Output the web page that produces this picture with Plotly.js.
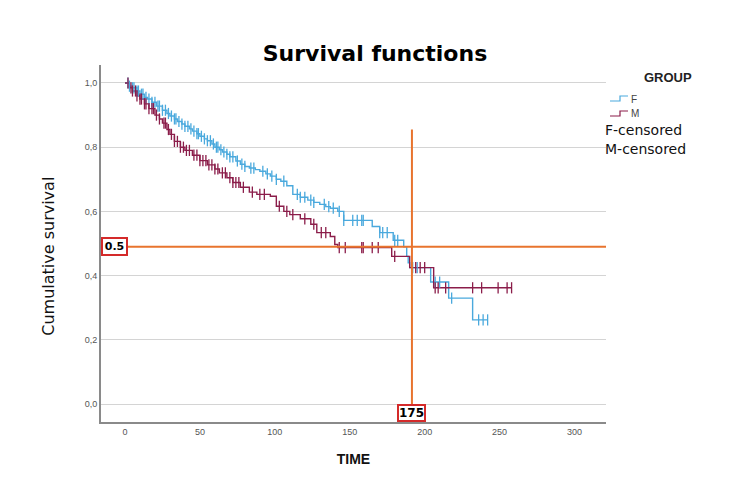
<!DOCTYPE html>
<html>
<head>
<meta charset="utf-8">
<script src="https://cdn.plot.ly/plotly-3.0.1.min.js"></script>
<style>html,body{margin:0;padding:0;background:#fff;}#chart{width:750px;height:493px;}</style>
</head>
<body>
<div id="chart"></div>
<script>
// ---- Data ----
const fTime = [0, 3, 5, 8, 10, 13, 15, 18, 21, 25, 28, 30, 33, 35, 38, 40, 43, 45, 48, 50, 53, 55, 58, 60, 63, 65, 68, 70, 74, 77, 80, 83, 87, 90, 94, 97, 101, 104, 108, 112, 117, 122, 126, 130, 134, 137, 142, 146, 165, 170, 179, 186, 188, 189, 190, 204, 216, 232, 242];
const fSurv = [1.0, 0.99, 0.985, 0.975, 0.965, 0.955, 0.95, 0.94, 0.928, 0.915, 0.905, 0.897, 0.888, 0.88, 0.872, 0.865, 0.857, 0.85, 0.842, 0.834, 0.826, 0.82, 0.81, 0.80, 0.792, 0.785, 0.778, 0.77, 0.757, 0.747, 0.74, 0.735, 0.73, 0.725, 0.717, 0.71, 0.70, 0.694, 0.68, 0.653, 0.644, 0.635, 0.628, 0.622, 0.615, 0.61, 0.60, 0.572, 0.553, 0.534, 0.51, 0.49, 0.46, 0.44, 0.425, 0.38, 0.33, 0.262, 0.262];
const fCensored = [2, 3, 5, 6, 8, 9, 11, 12, 14, 16, 18, 20, 22, 23, 25, 27, 29, 31, 33, 34, 36, 38, 40, 42, 44, 46, 48, 49, 51, 53, 55, 57, 59, 61, 62, 64, 66, 68, 70, 72, 75, 78, 80, 84, 86, 92, 95, 98, 101, 106, 115, 117, 120, 124, 126, 133, 136, 139, 143, 146, 152, 155, 158, 159, 170, 172, 175, 180, 182, 192, 195, 207, 210, 218, 236, 239, 242];

const mTime = [0, 3, 5, 8, 10, 13, 16, 20, 23, 25, 28, 30, 33, 37, 40, 45, 50, 55, 60, 63, 68, 72, 77, 83, 88, 97, 101, 106, 110, 117, 124, 128, 137, 140, 142, 178, 190, 206, 258];
const mSurv = [1.0, 0.985, 0.975, 0.96, 0.95, 0.935, 0.92, 0.90, 0.888, 0.875, 0.855, 0.84, 0.818, 0.80, 0.79, 0.775, 0.758, 0.745, 0.732, 0.72, 0.705, 0.69, 0.675, 0.66, 0.653, 0.647, 0.616, 0.60, 0.59, 0.577, 0.56, 0.534, 0.522, 0.497, 0.487, 0.46, 0.425, 0.362, 0.362];
const mCensored = [2, 4, 5, 7, 8, 10, 11, 13, 14, 16, 18, 19, 21, 23, 26, 27, 29, 31, 33, 35, 37, 39, 41, 43, 46, 48, 50, 52, 54, 56, 58, 60, 62, 65, 67, 70, 72, 74, 76, 79, 85, 90, 93, 103, 108, 112, 120, 126, 131, 134, 143, 147, 158, 159, 165, 169, 180, 194, 197, 200, 207, 209, 214, 232, 238, 249, 255, 258];

const xTicks = [0, 50, 100, 150, 200, 250, 300];
const yTicks = [0, 0.2, 0.4, 0.6, 0.8, 1.0];
const yTickText = ["0,0", "0,2", "0,4", "0,6", "0,8", "1,0"];

const refSurv = 0.49;      // horizontal reference line
const refTime = 191.5;     // vertical reference line
const refTop = 0.855;
const refSurvLabel = "0.5";
const refTimeLabel = "175";

const groupNames = ["F", "M"];
// ---- end data ----

const colF = "#4aa9dd";
const colM = "#8b1d4a";
const orange = "#e8742e";

function stepValue(times, surv, t) {
  let v = surv[0];
  for (let i = 0; i < times.length; i++) { if (times[i] <= t) v = surv[i]; else break; }
  return v;
}

// plot area in pixels
const L = 101, R = 606, T = 65, B = 422, W = 750, H = 493;
const px = x => (x - L) / (R - L);
const py = y => (B - y) / (B - T);

const traces = [
  {x: fTime, y: fSurv, mode: "lines", line: {shape: "hv", color: colF, width: 1.4}, name: groupNames[0], showlegend: false, hoverinfo: "skip"},
  {x: mTime, y: mSurv, mode: "lines", line: {shape: "hv", color: colM, width: 1.4}, name: groupNames[1], showlegend: false, hoverinfo: "skip"},
  {x: fCensored, y: fCensored.map(t => stepValue(fTime, fSurv, t)), mode: "markers", name: "F-censored", showlegend: false,
   marker: {symbol: "line-ns-open", size: 8, line: {color: colF, width: 1.3}, color: colF}},
  {x: mCensored, y: mCensored.map(t => stepValue(mTime, mSurv, t)), mode: "markers", name: "M-censored", showlegend: false,
   marker: {symbol: "line-ns-open", size: 8, line: {color: colM, width: 1.3}, color: colM}}
];

const stepIcon = (x0, x1, y) => {
  const xm = (x0 + x1) / 2 + 1;
  return `M ${px(x0)},${py(y + 2)} L ${px(xm)},${py(y + 2)} L ${px(xm)},${py(y - 3)} L ${px(x1)},${py(y - 3)}`;
};

const layout = {
  width: W, height: H,
  margin: {l: L, r: W - R, t: T, b: H - B},
  paper_bgcolor: "#ffffff", plot_bgcolor: "#ffffff",
  showlegend: false,
  title: {text: "<b>Survival functions</b>", font: {family: "DejaVu Sans", size: 22, color: "#000"},
          x: 0.5, xanchor: "center", xref: "container", y: 1 - 53 / H, yanchor: "middle"},
  xaxis: {range: [-16, 321], tickvals: xTicks, ticktext: xTicks.map(String), showgrid: false, zeroline: false,
          showline: true, linecolor: "#8a8a8a", linewidth: 2, ticks: "", tickfont: {family: "Liberation Sans", size: 9, color: "#555"},
          title: {text: "<b>TIME</b>", font: {family: "Liberation Sans", size: 14, color: "#111"}, standoff: 18}},
  yaxis: {range: [-0.056, 1.056], tickvals: yTicks, ticktext: yTickText, showgrid: true, gridcolor: "#d4d4d4", gridwidth: 1,
          zeroline: false, showline: true, linecolor: "#8a8a8a", linewidth: 2, ticks: "",
          tickfont: {family: "Liberation Sans", size: 9, color: "#555"},
          title: {text: "Cumulative survival&nbsp;&nbsp;&nbsp;&nbsp;&nbsp;", font: {family: "DejaVu Sans", size: 16, color: "#111"}, standoff: 26}},
  shapes: [
    {type: "line", xref: "paper", yref: "y", x0: 0, x1: 1, y0: refSurv, y1: refSurv, line: {color: orange, width: 2}},
    {type: "line", xref: "x", yref: "paper", x0: refTime, x1: refTime, y0: 0, y1: py(404 - refTop * 321), line: {color: orange, width: 2}},
    {type: "path", xref: "paper", yref: "paper", path: stepIcon(610, 628, 99), line: {color: colF, width: 1.2}},
    {type: "path", xref: "paper", yref: "paper", path: stepIcon(610, 628, 114), line: {color: colM, width: 1.2}}
  ],
  annotations: [
    {xref: "paper", yref: "y", x: 0, y: refSurv, xanchor: "left", yanchor: "middle", text: "<b>" + refSurvLabel + "</b>", showarrow: false,
     font: {family: "DejaVu Sans", size: 11, color: "#000"}, bordercolor: "#d42a2a", borderwidth: 2, borderpad: 1, bgcolor: "#fff", width: 21},
    {xref: "x", yref: "paper", x: refTime, y: 0, xanchor: "center", yanchor: "bottom", text: "<b>" + refTimeLabel + "</b>", showarrow: false,
     font: {family: "DejaVu Sans", size: 12, color: "#000"}, bordercolor: "#d42a2a", borderwidth: 2, borderpad: 0, bgcolor: "#fff"},
    {xref: "paper", yref: "paper", x: px(668), y: py(77), xanchor: "center", yanchor: "middle", text: "<b>GROUP</b>", showarrow: false,
     font: {family: "Liberation Sans", size: 13, color: "#222"}},
    {xref: "paper", yref: "paper", x: px(629), y: py(99), xanchor: "left", yanchor: "middle", text: groupNames[0], showarrow: false,
     font: {family: "Liberation Sans", size: 10, color: "#444"}},
    {xref: "paper", yref: "paper", x: px(629), y: py(114), xanchor: "left", yanchor: "middle", text: groupNames[1], showarrow: false,
     font: {family: "Liberation Sans", size: 10, color: "#444"}},
    {xref: "paper", yref: "paper", x: px(603), y: py(130), xanchor: "left", yanchor: "middle", text: "F-censored", showarrow: false,
     font: {family: "DejaVu Sans", size: 14, color: "#111"}},
    {xref: "paper", yref: "paper", x: px(603), y: py(149), xanchor: "left", yanchor: "middle", text: "M-censored", showarrow: false,
     font: {family: "DejaVu Sans", size: 14, color: "#111"}}
  ]
};

Plotly.newPlot("chart", traces, layout, {displayModeBar: false, staticPlot: true});
</script>
</body>
</html>
